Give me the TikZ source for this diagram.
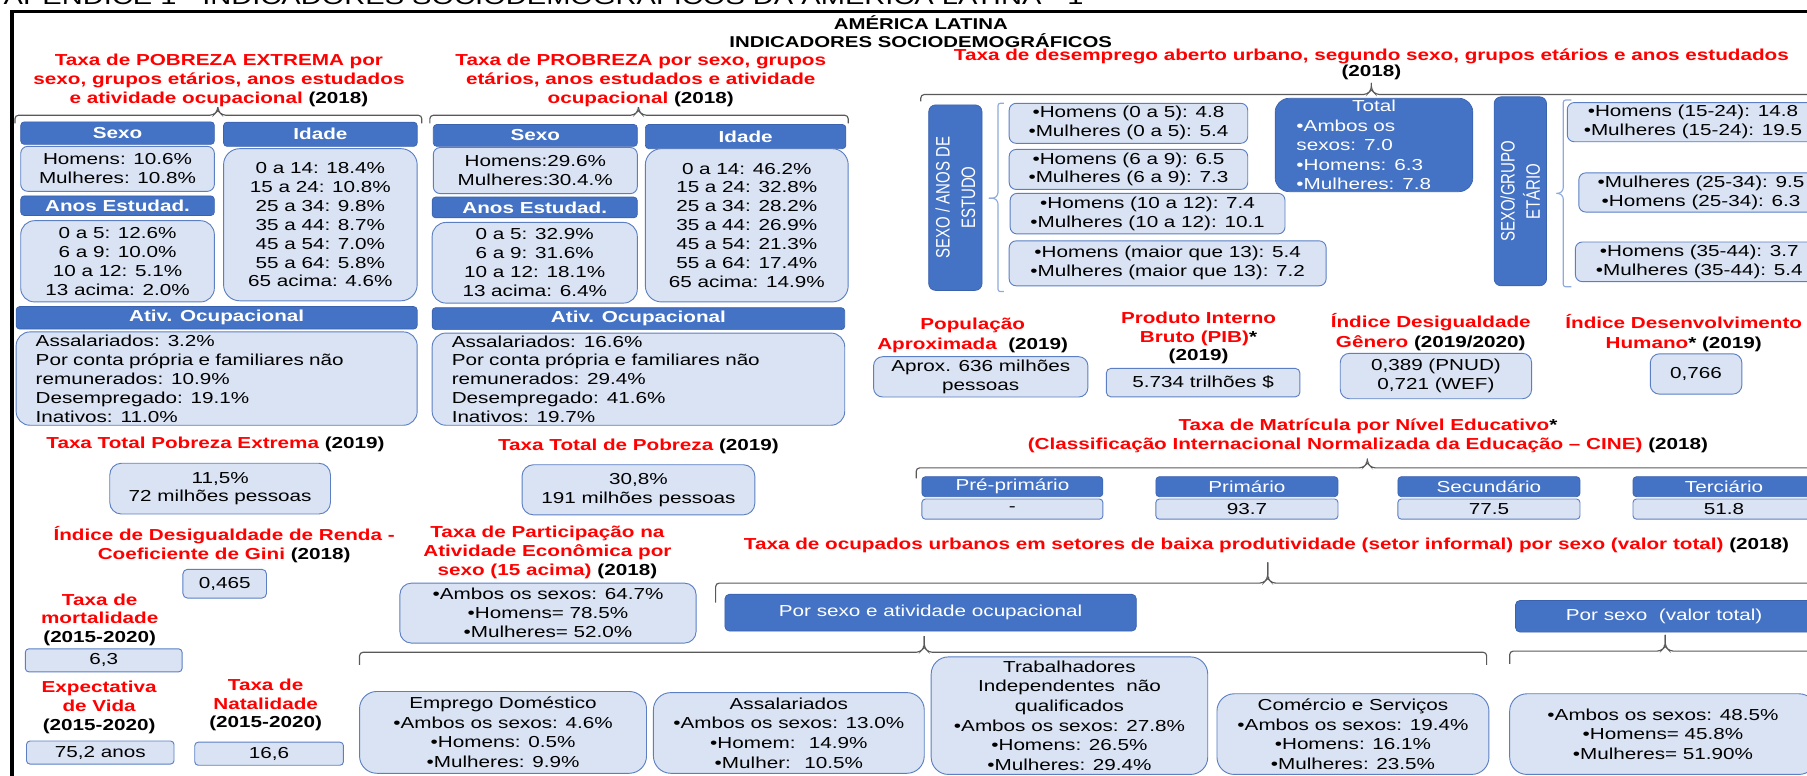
\documentclass[tikz,border=0pt]{standalone}
\usepackage{fontspec}
\setmainfont[FakeStretch=1.3]{Liberation Sans}
\newfontfamily\vertfont[FakeStretch=0.77]{Liberation Sans}
\usepackage{tikz}

\definecolor{HdBlue}{HTML}{4472C4}
\definecolor{HdLine}{HTML}{3A62AE}
\definecolor{ValFill}{HTML}{DAE3F3}
\definecolor{ValLine}{HTML}{5B7FC2}
\definecolor{BrGray}{HTML}{595959}
\definecolor{BrBlue}{HTML}{8FAADC}

\newcommand{\BodyFnt}{\fontsize{13.8}{16.4}\selectfont}
\newcommand{\RedFnt}{\fontsize{13.8}{16.6}\selectfont\bfseries}
\newcommand{\Blk}[1]{{\color{black}#1}}
% x1, x2, tip x, line y, drop, rise
\newcommand{\HBrace}[6]{%
  \draw[Brace, rounded corners=3pt] (#1,#4+#5) -- (#1,#4) -- (#3-4,#4) -- (#3,#4-4) -- (#3,#4-#6);
  \draw[Brace, rounded corners=3pt] (#3,#4-#6) -- (#3,#4-4) -- (#3+4,#4) -- (#2,#4) -- (#2,#4+#5);}
% line x, top y, bottom y, tick y, out, tick
\newcommand{\VBrace}[6]{%
  \draw[VBraceLn, rounded corners=2pt] (#1+#5,#2) -- (#1,#2) -- (#1,#4-3) -- (#1-3,#4) -- (#1-#6,#4);
  \draw[VBraceLn, rounded corners=2pt] (#1-#6,#4) -- (#1-3,#4) -- (#1,#4+3) -- (#1,#3) -- (#1+#5,#3);}

\begin{document}
\begin{tikzpicture}[x=1pt,y=-1pt]
		\tikzstyle{Head}	= [draw=HdLine, fill=HdBlue, rounded corners=3pt, text=white, font=\BodyFnt\bfseries, inner sep=0pt, line width=0.6pt]
		\tikzstyle{HeadN}	= [Head, font=\BodyFnt]
		\tikzstyle{Side}	= [Head, rounded corners=6pt, rotate=90, align=center, font=\vertfont\fontsize{16.9}{22}\selectfont]
		\tikzstyle{Val}		= [draw=ValLine, fill=ValFill, rounded corners=6pt, font=\BodyFnt, align=center, inner sep=0pt, line width=0.8pt]
		\tikzstyle{ValR}	= [Val, rounded corners=14pt]
		\tikzstyle{ValL}	= [Val, rounded corners=12pt, align=left, inner xsep=17pt]
		\tikzstyle{Bottom}	= [ValR, rounded corners=15pt, font=\fontsize{13.8}{17}\selectfont]
		\tikzstyle{Title}	= [text=red, font=\RedFnt, align=center, inner sep=0pt]
		\tikzstyle{Brace}	= [draw=BrGray, line width=1pt]
		\tikzstyle{VBraceLn}	= [draw=BrBlue, line width=1pt]
		\tikzset{wh/.style 2 args={minimum width=#1, minimum height=#2}}

		\useasboundingbox (0,0) rectangle (1568,673);

		% frame and headline
		\draw [line width=3pt] (10.5,673) -- (10.5,10) -- (1570,10);
		\node (tTop) at (3,3.5) [anchor=base west, inner sep=0pt, font=\fontsize{19.4}{20}\selectfont] {APÊNDICE 1 - INDICADORES SOCIODEMOGRÁFICOS DA AMÉRICA LATINA - 1};
		\node (tHead) at (799,27.3) [Title, text=black, font=\fontsize{13.6}{15.6}\selectfont\bfseries] {AMÉRICA LATINA\\INDICADORES SOCIODEMOGRÁFICOS};

		% pobreza extrema
		\node (tExt) at (190,70) [Title] {Taxa de POBREZA EXTREMA por\\sexo, grupos etários, anos estudados\\e atividade ocupacional \Blk{(2018)}};
		\HBrace{13}{366}{189}{100}{7}{7}
		\node (hSexoE) at (102,115.5) [Head, wh={168}{19.5}] {Sexo};
		\node (sexoE) at (102,146.5) [Val, wh={168}{39}] {Homens: 10.6\%\\Mulheres: 10.8\%};
		\node (hAnosE) at (102,178.5) [Head, wh={168}{17}] {Anos Estudad.};
		\node (anosE) at (102,226.75) [Val, rounded corners=12pt, wh={168}{70.5}] {0 a 5: 12.6\%\\6 a 9: 10.0\%\\10 a 12: 5.1\%\\13 acima: 2.0\%};
		\node (hIdadeE) at (278,116.5) [Head, wh={168}{21}] {Idade};
		\node (idadeE) at (278,195) [ValR, wh={168}{132}] {0 a 14: 18.4\%\\15 a 24: 10.8\%\\25 a 34: 9.8\%\\35 a 44: 8.7\%\\45 a 54: 7.0\%\\55 a 64: 5.8\%\\65 acima: 4.6\%};
		\node (hAtivE) at (188,275.75) [Head, wh={348}{19.5}] {Ativ. Ocupacional};
		\node (ativE) at (188,328.5) [ValL, text width=314, wh={348}{81}] {Assalariados: 3.2\%\\Por conta própria e familiares não\\remunerados: 10.9\%\\Desempregado: 19.1\%\\Inativos: 11.0\%};

		% pobreza
		\node (tPob) at (556,70) [Title] {Taxa de PROBREZA por sexo, grupos\\etários, anos estudados e atividade\\ocupacional \Blk{(2018)}};
		\HBrace{373}{736}{554}{100}{7}{7}
		\node (hSexoP) at (464.5,117.5) [Head, wh={177}{19}] {Sexo};
		\node (sexoP) at (464.5,148) [Val, wh={177}{40}] {Homens:29.6\%\\Mulheres:30.4.\%};
		\node (hAnosP) at (464,180) [Head, wh={178}{18}] {Anos Estudad.};
		\node (anosP) at (464,228) [Val, rounded corners=12pt, wh={178}{70}] {0 a 5: 32.9\%\\6 a 9: 31.6\%\\10 a 12: 18.1\%\\13 acima: 6.4\%};
		\node (hIdadeP) at (647,118.5) [Head, wh={174}{21}] {Idade};
		\node (idadeP) at (648,195.5) [ValR, wh={176}{133}] {0 a 14: 46.2\%\\15 a 24: 32.8\%\\25 a 34: 28.2\%\\35 a 44: 26.9\%\\45 a 54: 21.3\%\\55 a 64: 17.4\%\\65 acima: 14.9\%};
		\node (hAtivP) at (554,276.5) [Head, wh={358}{19}] {Ativ. Ocupacional};
		\node (ativP) at (554,329) [ValL, text width=324, wh={358}{80}] {Assalariados: 16.6\%\\Por conta própria e familiares não\\remunerados: 29.4\%\\Desempregado: 41.6\%\\Inativos: 19.7\%};

		% totais e indicadores da esquerda
		\node (tTotE) at (187,386) [Title] {Taxa Total Pobreza Extrema \Blk{(2019)}};
		\node (totE) at (191,424) [ValR, rounded corners=10pt, wh={191.5}{44}] {11,5\%\\72 milhões pessoas};
		\node (tTotP) at (554,387) [Title] {Taxa Total de Pobreza \Blk{(2019)}};
		\node (totP) at (554,425) [ValR, rounded corners=10pt, wh={202}{43.5}] {30,8\%\\191 milhões pessoas};
		\node (tGini) at (194.5,472.5) [Title, font=\fontsize{13.8}{17}\selectfont\bfseries] {Índice de Desigualdade de Renda -\\Coeficiente de Gini \Blk{(2018)}};
		\node (gini) at (195,506.5) [Val, rounded corners=4pt, wh={72.5}{25}] {0,465};
		\node (tMort) at (86.5,537.8) [Title, font=\fontsize{13.8}{16}\selectfont\bfseries] {Taxa de\\mortalidade\\\Blk{(2015-2020)}};
		\node (mort) at (90,573) [Val, rounded corners=3pt, wh={136}{20}] {6,3};
		\node (tExpv) at (86,613.5) [Title, font=\fontsize{13.8}{16.5}\selectfont\bfseries] {Expectativa\\de Vida\\\Blk{(2015-2020)}};
		\node (expv) at (87,653) [Val, rounded corners=3pt, wh={128}{20}] {75,2 anos};
		\node (tNat) at (230.5,612) [Title, font=\fontsize{13.8}{16}\selectfont\bfseries] {Taxa de\\Natalidade\\\Blk{(2015-2020)}};
		\node (natal) at (233.5,654) [Val, rounded corners=3pt, wh={129}{20}] {16,6};
		\node (tPart) at (475,479.4) [Title, font=\fontsize{13.8}{16.4}\selectfont\bfseries] {Taxa de Participação na\\Atividade Econômica por\\sexo (15 acima) \Blk{(2018)}};
		\node (part) at (475.5,532) [Val, rounded corners=10pt, wh={257}{52}] {•Ambos os sexos: 64.7\%\\•Homens= 78.5\%\\•Mulheres= 52.0\%};

		% desemprego
		\node (tDes) at (1190,56) [Title, font=\fontsize{13.8}{13.5}\selectfont\bfseries] {Taxa de desemprego aberto urbano, segundo sexo, grupos etários e anos estudados\\\Blk{(2018)}};
		\HBrace{799}{1590}{1190}{82}{6}{10}
		\node (sideA) at (829,171.5) [Side, wh={161}{46.3}] {SEXO / ANOS DE\\ESTUDO};
		\VBrace{866}{89.6}{253}{172}{5}{8}
		\node (d05) at (979.2,107) [Val, wh={207}{34.7}] {•Homens (0 a 5): 4.8\\•Mulheres (0 a 5): 5.4};
		\node (d69) at (979.2,147) [Val, wh={207}{34.7}] {•Homens (6 a 9): 6.5\\•Mulheres (6 a 9): 7.3};
		\node (d1012) at (995.8,185.4) [Val, wh={238.5}{35.2}] {•Homens (10 a 12): 7.4\\•Mulheres (10 a 12): 10.1};
		\node (d13) at (1013.2,228.5) [Val, wh={275}{39}] {•Homens (maior que 13): 5.4\\•Mulheres (maior que 13): 7.2};
		\node (dTot) at (1192.25,125.8) [Head, font=\fontsize{13.8}{16.8}\selectfont, rounded corners=12pt, align=left, text width=134.5, inner xsep=18.5pt, wh={171.5}{81}] {\makebox[134.5pt]{Total}\\•Ambos os\\sexos: 7.0\\•Homens: 6.3\\•Mulheres: 7.8};
		\node (sideG) at (1319.25,166) [Side, wh={164}{45.5}] {SEXO/GRUPO\\ETÁRIO};
		\VBrace{1356.5}{86.8}{248.8}{167.8}{7}{6}
		\node (g1524) at (1469,106) [Val, wh={218}{34}] {•Homens (15-24): 14.8\\•Mulheres (15-24): 19.5};
		\node (g2534) at (1476,167) [Val, wh={212}{34}] {•Mulheres (25-34): 9.5\\•Homens (25-34): 6.3};
		\node (g3544) at (1474.5,227.2) [Val, wh={215}{34.4}] {•Homens (35-44): 3.7\\•Mulheres (35-44): 5.4};

		% populacao, PIB, IDG, IDH
		\node (tPopu) at (844,291) [Title, font=\fontsize{13.8}{17.4}\selectfont\bfseries] {População\\Aproximada~ \Blk{(2019)}};
		\node (pop) at (851,327) [Val, rounded corners=8pt, wh={186}{35}] {Aprox. 636 milhões\\pessoas};
		\node (tPib) at (1040,293.3) [Title, font=\fontsize{13.8}{16.3}\selectfont\bfseries] {Produto Interno\\Bruto (PIB)\Blk{*}\\\Blk{(2019)}};
		\node (pib) at (1044,332) [Val, rounded corners=4pt, wh={168}{24.7}] {5.734 trilhões \$};
		\node (tIdg) at (1241.5,288) [Title, font=\fontsize{13.8}{17.2}\selectfont\bfseries] {Índice Desigualdade\\Gênero \Blk{(2019/2020)}};
		\node (idg) at (1246,326.3) [Val, rounded corners=8pt, wh={166}{39.4}] {0,389 (PNUD)\\0,721 (WEF)};
		\node (tIdh) at (1461,289) [Title, font=\fontsize{13.8}{17.1}\selectfont\bfseries] {Índice Desenvolvimento\\Humano\Blk{* (2019)}};
		\node (idh) at (1471.75,324.5) [Val, rounded corners=8pt, wh={79.5}{35}] {0,766};

		% matricula
		\node (tMat) at (1187,378.3) [Title, font=\fontsize{13.8}{16.7}\selectfont\bfseries] {Taxa de Matrícula por Nível Educativo\Blk{*}\\(Classificação Internacional Normalizada da Educação – CINE) \Blk{(2018)}};
		\HBrace{795}{1590}{1186.5}{406}{9}{8}
		\node (mPre) at (878.5,422.3) [HeadN, wh={157}{17.4}] {Pré-primário};
		\node (vPre) at (878.5,441.75) [Val, rounded corners=3pt, wh={157}{17.5}] {-};
		\node (mPri) at (1082,422.3) [HeadN, wh={158}{17.4}] {Primário};
		\node (vPri) at (1082,441.75) [Val, rounded corners=3pt, wh={158}{17.5}] {93.7};
		\node (mSec) at (1292,422.3) [HeadN, wh={158}{17.4}] {Secundário};
		\node (vSec) at (1292,441.75) [Val, rounded corners=3pt, wh={158}{17.5}] {77.5};
		\node (mTer) at (1496,422.3) [HeadN, wh={158}{17.4}] {Terciário};
		\node (vTer) at (1496,441.75) [Val, rounded corners=3pt, wh={158}{17.5}] {51.8};

		% setor informal
		\node (tInf) at (1099,473) [Title] {Taxa de ocupados urbanos em setores de baixa produtividade (setor informal) por sexo (valor total) \Blk{(2018)}};
		\HBrace{621}{1590}{1100}{506}{17}{18}
		\node (hOcc) at (807.5,531.6) [HeadN, rounded corners=4pt, wh={357}{32}] {Por sexo e atividade ocupacional};
		\node (hSex) at (1444,534.75) [HeadN, rounded corners=4pt, wh={258}{27.5}] {Por sexo~ (valor total)};
		\HBrace{312}{1290}{802}{566}{11}{14}
		\HBrace{1310}{1590}{1445}{565}{11}{14}
		\node (oDom) at (436.5,635.5) [Bottom, wh={249}{71}] {Emprego Doméstico\\•Ambos os sexos: 4.6\%\\•Homens: 0.5\%\\•Mulheres: 9.9\%};
		\node (oAsa) at (684.5,636) [Bottom, wh={235}{70}] {Assalariados\\•Ambos os sexos: 13.0\%\\•Homem:~ 14.9\%\\•Mulher:~ 10.5\%};
		\node (oTrab) at (928,621) [Bottom, wh={240}{102}] {Trabalhadores\\Independentes~ não\\qualificados\\•Ambos os sexos: 27.8\%\\•Homens: 26.5\%\\•Mulheres: 29.4\%};
		\node (oCom) at (1174,637) [Bottom, wh={236}{70}] {Comércio e Serviços\\•Ambos os sexos: 19.4\%\\•Homens: 16.1\%\\•Mulheres: 23.5\%};
		\node (oSex) at (1443,637) [Bottom, wh={266}{70}] {•Ambos os sexos: 48.5\%\\•Homens= 45.8\%\\•Mulheres= 51.90\%};
	\end{tikzpicture}
\end{document}
